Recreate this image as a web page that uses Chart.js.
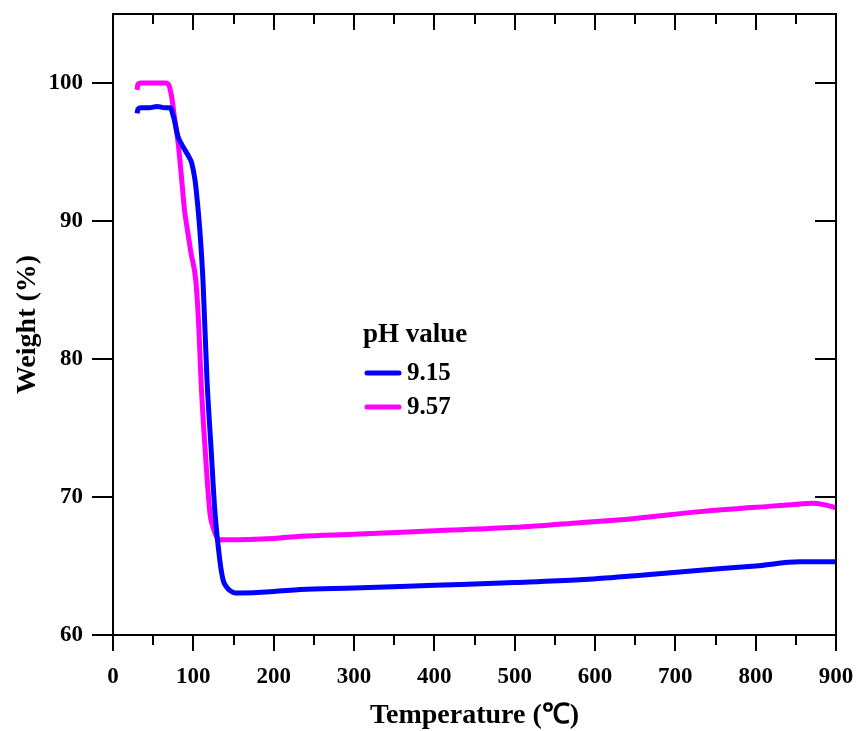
<!DOCTYPE html>
<html>
<head>
<meta charset="utf-8">
<title>TGA weight loss</title>
<script src="https://cdn.jsdelivr.net/npm/chart.js@4.4.1/dist/chart.umd.min.js"></script>
<style>
  html, body { margin: 0; padding: 0; background: #ffffff; }
  #wrap { width: 856px; height: 731px; }
</style>
</head>
<body>
<div id="wrap"><canvas id="tga" width="856" height="731"></canvas></div>
<script>
// Thermogravimetric curves for two samples (temperature in °C, weight in %)
const seriesLabels = ['9.15', '9.57'];
const legendTitle = 'pH value';

const tempPH915 = [30, 31, 35, 45, 55, 65, 71, 76, 81, 86, 90, 95, 98, 102, 104, 108, 112, 117, 122, 127, 133, 137, 141, 146, 152, 160, 200, 233, 300, 400, 500, 581, 650, 731, 800, 855, 880, 900];
const weightPH915 = [97.8, 98.1, 98.2, 98.2, 98.3, 98.2, 98.2, 97.4, 96.1, 95.5, 95.1, 94.6, 94.2, 93.0, 92.0, 89.4, 85.7, 78.5, 73.6, 68.8, 65.4, 64.0, 63.5, 63.2, 63.05, 63.05, 63.15, 63.3, 63.4, 63.6, 63.8, 64.0, 64.3, 64.7, 65.0, 65.3, 65.3, 65.3];

const tempPH957 = [30, 31, 35, 50, 65, 69, 73, 77, 81, 85.5, 89, 92.5, 97, 103, 107, 109.5, 114.5, 120.7, 124, 127, 130, 133, 140, 200, 233, 300, 400, 500, 581, 650, 731, 800, 855, 870, 885, 900];
const weightPH957 = [99.5, 99.9, 100.0, 100.0, 100.0, 99.9, 99.0, 97.3, 95.7, 93.0, 90.8, 89.4, 87.7, 85.7, 82.1, 78.5, 73.6, 68.8, 67.9, 67.4, 67.0, 66.9, 66.9, 67.0, 67.15, 67.3, 67.55, 67.8, 68.14, 68.45, 68.94, 69.25, 69.5, 69.55, 69.45, 69.23];

const xTicks = [0, 100, 200, 300, 400, 500, 600, 700, 800, 900];
const xMinorTicks = [50, 150, 250, 350, 450, 550, 650, 750, 850];
const yTicks = [60, 70, 80, 90, 100];

const seriesColors = ['#0000ff', '#ff00ff'];
const serifBold = (size) => ({ family: '"Liberation Serif", "Times New Roman", serif', weight: 'bold', size });

function toPoints(xs, ys) {
  return xs.map((x, i) => ({ x, y: ys[i] }));
}

// Scales keep a fixed size and do not reserve room for overhanging labels
function fixScale(size, horizontal) {
  return (scale) => {
    if (horizontal) scale.height = size; else scale.width = size;
    scale.paddingLeft = 0; scale.paddingRight = 0;
    scale.paddingTop = 0; scale.paddingBottom = 0;
  };
}

// Frame on all four sides plus tick marks (outward on bottom/left, inward on top/right)
const framePlugin = {
  id: 'frameTicks',
  afterDraw(chart) {
    const { ctx, chartArea: a, scales: { x, y } } = chart;
    ctx.save();
    ctx.strokeStyle = '#000';
    ctx.lineWidth = 2;
    ctx.lineCap = 'butt';
    ctx.strokeRect(a.left, a.top, a.right - a.left, a.bottom - a.top);
    ctx.beginPath();
    const drawX = (v, len) => {
      const px = Math.round(x.getPixelForValue(v));
      ctx.moveTo(px, a.bottom); ctx.lineTo(px, a.bottom + len);
      ctx.moveTo(px, a.top); ctx.lineTo(px, a.top + len);
    };
    xTicks.forEach(v => drawX(v, 16));
    xMinorTicks.forEach(v => drawX(v, 10));
    yTicks.forEach(v => {
      const py = Math.round(y.getPixelForValue(v));
      ctx.moveTo(a.left - 21, py); ctx.lineTo(a.left, py);
      ctx.moveTo(a.right - 21, py); ctx.lineTo(a.right, py);
    });
    ctx.stroke();
    ctx.restore();
  }
};

// Legend with a heading, drawn inside the plot
const legendPlugin = {
  id: 'phLegend',
  afterDraw(chart) {
    const { ctx } = chart;
    ctx.save();
    ctx.fillStyle = '#000';
    ctx.textBaseline = 'middle';
    ctx.textAlign = 'left';
    ctx.font = 'bold 27px "Liberation Serif", "Times New Roman", serif';
    ctx.fillText(legendTitle, 363, 335);
    chart.data.datasets.forEach((ds, i) => {
      const yy = 373 + i * 34;
      ctx.strokeStyle = ds.borderColor;
      ctx.lineWidth = 5;
      ctx.lineCap = 'round';
      ctx.beginPath();
      ctx.moveTo(367, yy); ctx.lineTo(399, yy);
      ctx.stroke();
      ctx.font = 'bold 25px "Liberation Serif", "Times New Roman", serif';
      ctx.fillText(ds.label, 407, yy + 1);
    });
    ctx.restore();
  }
};

new Chart(document.getElementById('tga'), {
  type: 'line',
  data: {
    datasets: [
      {
        label: seriesLabels[0],
        data: toPoints(tempPH915, weightPH915),
        borderColor: seriesColors[0],
        backgroundColor: seriesColors[0],
        borderWidth: 5,
        pointRadius: 0,
        cubicInterpolationMode: 'monotone',
        fill: false
      },
      {
        label: seriesLabels[1],
        data: toPoints(tempPH957, weightPH957),
        borderColor: seriesColors[1],
        backgroundColor: seriesColors[1],
        borderWidth: 5,
        pointRadius: 0,
        cubicInterpolationMode: 'monotone',
        fill: false
      }
    ]
  },
  options: {
    responsive: false,
    animation: false,
    devicePixelRatio: 1,
    layout: { padding: { left: 0, right: 20, top: 14, bottom: 0 } },
    plugins: {
      legend: { display: false },
      tooltip: { enabled: false }
    },
    scales: {
      x: {
        type: 'linear',
        min: 0,
        max: 900,
        afterFit: fixScale(96, true),
        afterBuildTicks(scale) { scale.ticks = xTicks.map(v => ({ value: v })); },
        grid: { display: false, drawTicks: false },
        border: { display: false },
        ticks: { color: '#000', font: serifBold(23), padding: 28, maxRotation: 0, autoSkip: false },
        title: { display: true, text: 'Temperature (℃)', color: '#000', font: serifBold(28), padding: { top: 0, bottom: -2 } }
      },
      y: {
        type: 'linear',
        min: 60,
        max: 105,
        afterFit: fixScale(113, false),
        afterBuildTicks(scale) { scale.ticks = yTicks.map(v => ({ value: v })); },
        grid: { display: false, drawTicks: false },
        border: { display: false },
        ticks: { color: '#000', font: serifBold(23), padding: 30, autoSkip: false },
        title: { display: true, text: 'Weight (%)', color: '#000', font: serifBold(28), padding: { top: 11, bottom: 0 } }
      }
    }
  },
  plugins: [framePlugin, legendPlugin]
});
</script>
</body>
</html>
